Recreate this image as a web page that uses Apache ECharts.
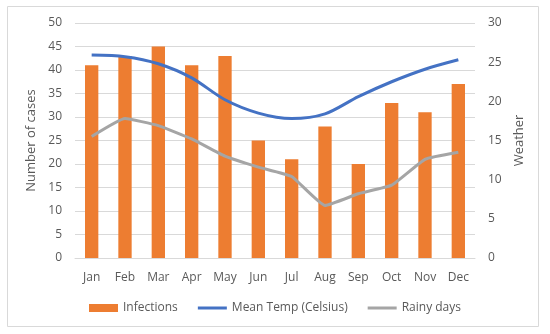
<!DOCTYPE html>
<html><head><meta charset="utf-8">
<script src="https://cdn.jsdelivr.net/npm/echarts@6/dist/echarts.min.js"></script>
<style>html,body{margin:0;padding:0;background:#fff}#c{width:550px;height:334px}</style>
</head><body><div id="c"></div>
<script>
const months = ['Jan','Feb','Mar','Apr','May','Jun','Jul','Aug','Sep','Oct','Nov','Dec'];
const infections = [41,43,45,41,43,25,21,28,20,33,31,37];
const meanTemp = [25.9,25.7,24.8,23.0,20.2,18.5,17.8,18.4,20.6,22.5,24.1,25.3];
const rainyDays = [15.5,17.8,16.9,15.2,13.0,11.6,10.4,6.7,8.2,9.3,12.6,13.5];
const leftTicks = {min:0,max:50,interval:5};
const rightTicks = {min:0,max:30,interval:5};

const txt = '#595959';
const font = 'Open Sans';
const lineIcon = 'path://M0,0L0,0M0,2.5L29,2.5L29,5.5L0,5.5ZM29,8L29,8';
const chart = echarts.init(document.getElementById('c'));
chart.setOption({
  animation:false,
  textStyle:{fontFamily:font},
  graphic:[{type:'rect',shape:{x:7.5,y:6.5,width:531,height:320},style:{fill:'none',stroke:'#D9D9D9',lineWidth:1}}],
  grid:{left:75,right:75,top:23,bottom:76},
  legend:{bottom:15,left:'center',itemGap:20,itemWidth:29,itemHeight:8,
    textStyle:{color:txt,fontSize:12,fontFamily:font},
    data:[{name:'Infections',icon:'rect'},{name:'Mean Temp (Celsius)',icon:lineIcon},{name:'Rainy days',icon:lineIcon}]},
  xAxis:{type:'category',data:months,
    axisLine:{lineStyle:{color:'#D9D9D9'}},axisTick:{show:false},
    axisLabel:{color:txt,fontSize:12,margin:14,fontFamily:font}},
  yAxis:[
    {type:'value',min:leftTicks.min,max:leftTicks.max,interval:leftTicks.interval,
     name:'Number of cases',nameLocation:'middle',nameGap:35,nameRotate:90,
     nameTextStyle:{color:txt,fontSize:13,fontFamily:font},
     axisLabel:{color:txt,fontSize:12,margin:13,fontFamily:font},
     splitLine:{lineStyle:{color:'#D9D9D9'}},axisLine:{show:false},axisTick:{show:false}},
    {type:'value',min:rightTicks.min,max:rightTicks.max,interval:rightTicks.interval,
     name:'Weather',nameLocation:'middle',nameGap:33,nameRotate:90,
     nameTextStyle:{color:txt,fontSize:13,fontFamily:font},
     axisLabel:{color:txt,fontSize:12,margin:13,fontFamily:font},
     splitLine:{show:false},axisLine:{show:false},axisTick:{show:false}}
  ],
  series:[
    {name:'Infections',type:'bar',data:infections,barWidth:'40%',itemStyle:{color:'#ED7D31'}},
    {name:'Mean Temp (Celsius)',type:'line',yAxisIndex:1,data:meanTemp,smooth:0.3,symbol:'none',
     lineStyle:{color:'#4472C4',width:3},itemStyle:{color:'#4472C4'}},
    {name:'Rainy days',type:'line',yAxisIndex:1,data:rainyDays,smooth:0.12,symbol:'none',
     lineStyle:{color:'#A5A5A5',width:3},itemStyle:{color:'#A5A5A5'}}
  ]
});
</script></body></html>
